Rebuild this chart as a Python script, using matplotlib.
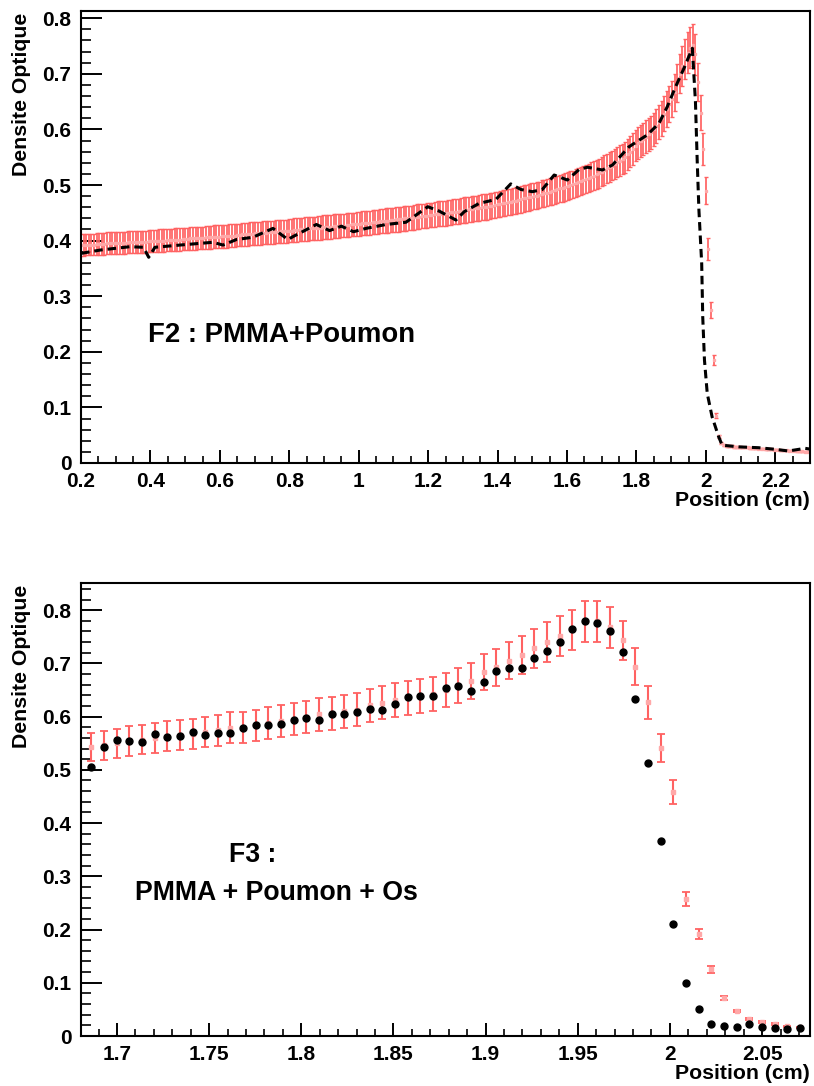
import matplotlib
matplotlib.use('Agg')
import matplotlib.pyplot as plt
import numpy as np
from matplotlib.ticker import FixedLocator, MultipleLocator, FuncFormatter

plt.rcParams['font.family'] = ['Liberation Sans', 'DejaVu Sans']
plt.rcParams['font.weight'] = 'bold'

# ---------------- Data: top panel (F2 : PMMA+Poumon) ----------------
top_sim_start = 0.2      # first sample position (cm)
top_sim_step = 0.0075    # sample spacing (cm)
top_sim_values = [
    0.392, 0.392, 0.393, 0.393, 0.393, 0.393, 0.394, 0.394, 0.394, 0.394,
    0.395, 0.395, 0.395, 0.395, 0.396, 0.396, 0.396, 0.396, 0.397, 0.397,
    0.397, 0.397, 0.398, 0.398, 0.398, 0.398, 0.399, 0.399, 0.399, 0.399,
    0.400, 0.400, 0.400, 0.401, 0.401, 0.401, 0.402, 0.402, 0.402, 0.403,
    0.403, 0.403, 0.404, 0.404, 0.404, 0.405, 0.405, 0.405, 0.406, 0.406,
    0.406, 0.407, 0.407, 0.407, 0.408, 0.408, 0.408, 0.409, 0.409, 0.409,
    0.410, 0.410, 0.411, 0.411, 0.411, 0.412, 0.412, 0.413, 0.413, 0.413,
    0.414, 0.414, 0.415, 0.415, 0.415, 0.416, 0.416, 0.417, 0.417, 0.417,
    0.418, 0.418, 0.419, 0.419, 0.420, 0.420, 0.421, 0.421, 0.422, 0.422,
    0.422, 0.423, 0.423, 0.424, 0.424, 0.425, 0.425, 0.426, 0.426, 0.426,
    0.427, 0.427, 0.428, 0.428, 0.429, 0.429, 0.430, 0.430, 0.431, 0.431,
    0.432, 0.432, 0.433, 0.433, 0.434, 0.435, 0.435, 0.436, 0.436, 0.437,
    0.437, 0.438, 0.438, 0.439, 0.440, 0.440, 0.441, 0.441, 0.442, 0.443,
    0.443, 0.444, 0.444, 0.445, 0.446, 0.446, 0.447, 0.448, 0.448, 0.449,
    0.449, 0.450, 0.451, 0.452, 0.452, 0.453, 0.454, 0.455, 0.455, 0.456,
    0.457, 0.458, 0.458, 0.459, 0.460, 0.461, 0.461, 0.462, 0.463, 0.464,
    0.465, 0.466, 0.467, 0.468, 0.469, 0.470, 0.471, 0.472, 0.473, 0.474,
    0.476, 0.477, 0.478, 0.479, 0.480, 0.481, 0.482, 0.484, 0.485, 0.486,
    0.488, 0.489, 0.491, 0.492, 0.494, 0.495, 0.497, 0.498, 0.500, 0.501,
    0.503, 0.505, 0.507, 0.509, 0.511, 0.513, 0.515, 0.517, 0.519, 0.521,
    0.524, 0.527, 0.530, 0.532, 0.535, 0.538, 0.541, 0.544, 0.547, 0.550,
    0.555, 0.560, 0.565, 0.571, 0.576, 0.579, 0.583, 0.587, 0.591, 0.595,
    0.600, 0.606, 0.613, 0.620, 0.628, 0.637, 0.646, 0.655, 0.667, 0.684,
    0.700, 0.714, 0.727, 0.738, 0.747, 0.752,
    0.735, 0.685, 0.630, 0.565, 0.490, 0.385, 0.275, 0.185, 0.085, 0.048, 0.036,
    0.032, 0.031, 0.030, 0.030, 0.029, 0.029, 0.029, 0.028, 0.028, 0.028,
    0.027, 0.027, 0.027, 0.026, 0.026, 0.026, 0.025, 0.025, 0.025, 0.024,
    0.024, 0.024, 0.023, 0.023, 0.023, 0.022, 0.022, 0.022, 0.021, 0.021,
    0.021, 0.020, 0.020, 0.020,
]
rel_err = 0.05   # relative uncertainty of the simulated curve

top_meas_x = [0.200, 0.255, 0.340, 0.380, 0.395, 0.413, 0.485, 0.580, 0.609, 0.648,
              0.695, 0.753, 0.796, 0.810, 0.878, 0.916, 0.950, 0.985, 1.021, 1.079,
              1.136, 1.199, 1.232, 1.280, 1.304, 1.347, 1.395, 1.438, 1.467, 1.500,
              1.529, 1.563, 1.601, 1.635, 1.659, 1.702, 1.731, 1.779, 1.831, 1.865,
              1.889, 1.913, 1.937, 1.961, 1.970, 1.975, 1.980, 1.988, 1.991, 1.996,
              2.004, 2.018, 2.037, 2.047, 2.095, 2.152, 2.200, 2.238, 2.286, 2.300]
top_meas_y = [0.377, 0.383, 0.389, 0.388, 0.370, 0.388, 0.392, 0.397, 0.392, 0.402,
              0.406, 0.422, 0.402, 0.407, 0.429, 0.418, 0.426, 0.416, 0.422, 0.429,
              0.433, 0.461, 0.453, 0.437, 0.452, 0.467, 0.474, 0.502, 0.492, 0.488,
              0.492, 0.518, 0.509, 0.528, 0.532, 0.527, 0.536, 0.569, 0.590, 0.611,
              0.641, 0.677, 0.710, 0.746, 0.650, 0.545, 0.455, 0.359, 0.263, 0.185,
              0.125, 0.083, 0.047, 0.032, 0.029, 0.0275, 0.0246, 0.0216, 0.0264, 0.025]

top_xticks = [0.2, 0.4, 0.6, 0.8, 1.0, 1.2, 1.4, 1.6, 1.8, 2.0, 2.2]
top_yticks = [0, 0.1, 0.2, 0.3, 0.4, 0.5, 0.6, 0.7, 0.8]

# ---------------- Data: bottom panel (F3 : PMMA + Poumon + Os) ----------------
bot_x = [1.6861, 1.6930, 1.6998, 1.7067, 1.7136, 1.7204, 1.7273, 1.7341, 1.7410, 1.7479,
         1.7547, 1.7616, 1.7685, 1.7753, 1.7822, 1.7891, 1.7959, 1.8028, 1.8097, 1.8165,
         1.8234, 1.8302, 1.8371, 1.8440, 1.8508, 1.8577, 1.8646, 1.8714, 1.8783, 1.8852,
         1.8920, 1.8989, 1.9057, 1.9126, 1.9195, 1.9263, 1.9332, 1.9401, 1.9469, 1.9538,
         1.9607, 1.9675, 1.9744, 1.9813, 1.9881, 1.9950, 2.0018, 2.0087, 2.0156, 2.0224,
         2.0293, 2.0362, 2.0430, 2.0499, 2.0568, 2.0636, 2.0705]
bot_sim = [0.543, 0.546, 0.550, 0.554, 0.557, 0.560, 0.564, 0.565, 0.568, 0.571,
           0.574, 0.579, 0.579, 0.584, 0.588, 0.592, 0.595, 0.599, 0.604, 0.606,
           0.610, 0.613, 0.621, 0.626, 0.631, 0.635, 0.639, 0.643, 0.650, 0.659,
           0.667, 0.684, 0.693, 0.705, 0.715, 0.728, 0.740, 0.752, 0.763, 0.779,
           0.779, 0.768, 0.743, 0.694, 0.627, 0.541, 0.458, 0.258, 0.192, 0.125,
           0.072, 0.047, 0.032, 0.026, 0.0225, 0.018, 0.016]
bot_meas = [0.506, 0.542, 0.557, 0.555, 0.552, 0.568, 0.561, 0.563, 0.571, 0.565,
            0.569, 0.570, 0.578, 0.585, 0.585, 0.586, 0.593, 0.597, 0.594, 0.604,
            0.605, 0.609, 0.614, 0.612, 0.624, 0.636, 0.638, 0.638, 0.653, 0.658,
            0.649, 0.665, 0.686, 0.692, 0.692, 0.710, 0.723, 0.740, 0.765, 0.780,
            0.776, 0.761, 0.721, 0.634, 0.513, 0.366, 0.210, 0.100, 0.050, 0.0225,
            0.019, 0.016, 0.023, 0.016, 0.015, 0.014, 0.015]

bot_xticks = [1.70, 1.75, 1.80, 1.85, 1.90, 1.95, 2.00, 2.05]
bot_yticks = [0, 0.1, 0.2, 0.3, 0.4, 0.5, 0.6, 0.7, 0.8]

# ---------------- Styling ----------------
RED = '#ff6262'
PINK = '#ffa8a8'
W, H = 814, 1086

fig = plt.figure(figsize=(W / 100, H / 100), dpi=100)
ax1 = fig.add_axes([81 / W, 1 - 463 / H, 729 / W, 452 / H])
ax2 = fig.add_axes([81 / W, 1 - 1036 / H, 729 / W, 453 / H])

fmt = FuncFormatter(lambda v, p: '%g' % round(v, 4))


def style_axes(ax, xticks, yticks, xminor, yminor):
    ax.xaxis.set_major_locator(FixedLocator(xticks))
    ax.yaxis.set_major_locator(FixedLocator(yticks))
    ax.xaxis.set_minor_locator(MultipleLocator(xminor))
    ax.yaxis.set_minor_locator(MultipleLocator(yminor))
    ax.xaxis.set_major_formatter(fmt)
    ax.yaxis.set_major_formatter(fmt)
    ax.tick_params(axis='both', which='both', direction='in', top=False, right=False,
                   labelsize=15, colors='black')
    ax.tick_params(axis='y', which='major', length=15, width=1.4, pad=7)
    ax.tick_params(axis='y', which='minor', length=7.5, width=1.2)
    ax.tick_params(axis='x', which='major', length=9.5, width=1.4, pad=6.5)
    ax.tick_params(axis='x', which='minor', length=5, width=1.2)
    for lab in ax.get_xticklabels() + ax.get_yticklabels():
        lab.set_fontweight('bold')
    for s in ax.spines.values():
        s.set_linewidth(1.5)
    ax.text(1.0, -0.082, 'Position (cm)', transform=ax.transAxes, ha='right',
            va='center', fontsize=15.3, fontweight='bold')
    ax.text(-0.081, 0.996, 'Densite Optique', transform=ax.transAxes, ha='center',
            va='top', rotation=90, fontsize=15.3, fontweight='bold')


# ---- top panel ----
top_x = top_sim_start + top_sim_step * np.arange(len(top_sim_values))
top_v = np.array(top_sim_values)
ax1.errorbar(top_x, top_v, yerr=rel_err * top_v, fmt='s', ms=1.4, mfc=PINK, mec=PINK,
             ecolor=RED, elinewidth=1.25, capsize=1.3, capthick=1.0, zorder=2)
ax1.plot(top_meas_x, top_meas_y, color='black', lw=2.2, ls=(0, (2.8, 1.6)), zorder=3)
ax1.set_xlim(0.2, 2.3)
ax1.set_ylim(0, 0.813)
style_axes(ax1, top_xticks, top_yticks, 0.05, 0.02)
ax1.text(0.393, 0.23, 'F2 : PMMA+Poumon', fontsize=19.8, fontweight='bold',
         ha='left', va='center')

# ---- bottom panel ----
bs = np.array(bot_sim)
ax2.errorbar(bot_x, bs, yerr=rel_err * bs, fmt='s', ms=2.2, mfc=PINK, mec=PINK,
             ecolor=RED, elinewidth=1.5, capsize=2.6, capthick=1.3, zorder=2)
ax2.plot(bot_x, bot_meas, 'o', color='black', ms=5, zorder=3)
ax2.set_xlim(1.6805, 2.076)
ax2.set_ylim(0, 0.851)
style_axes(ax2, bot_xticks, bot_yticks, 0.01, 0.02)
ax2.text(1.7738, 0.34, 'F3 :', fontsize=19.2, fontweight='bold', ha='center', va='center')
ax2.text(1.7098, 0.268, 'PMMA + Poumon + Os', fontsize=19.2, fontweight='bold',
         ha='left', va='center')

fig.savefig('out.png', dpi=100)
